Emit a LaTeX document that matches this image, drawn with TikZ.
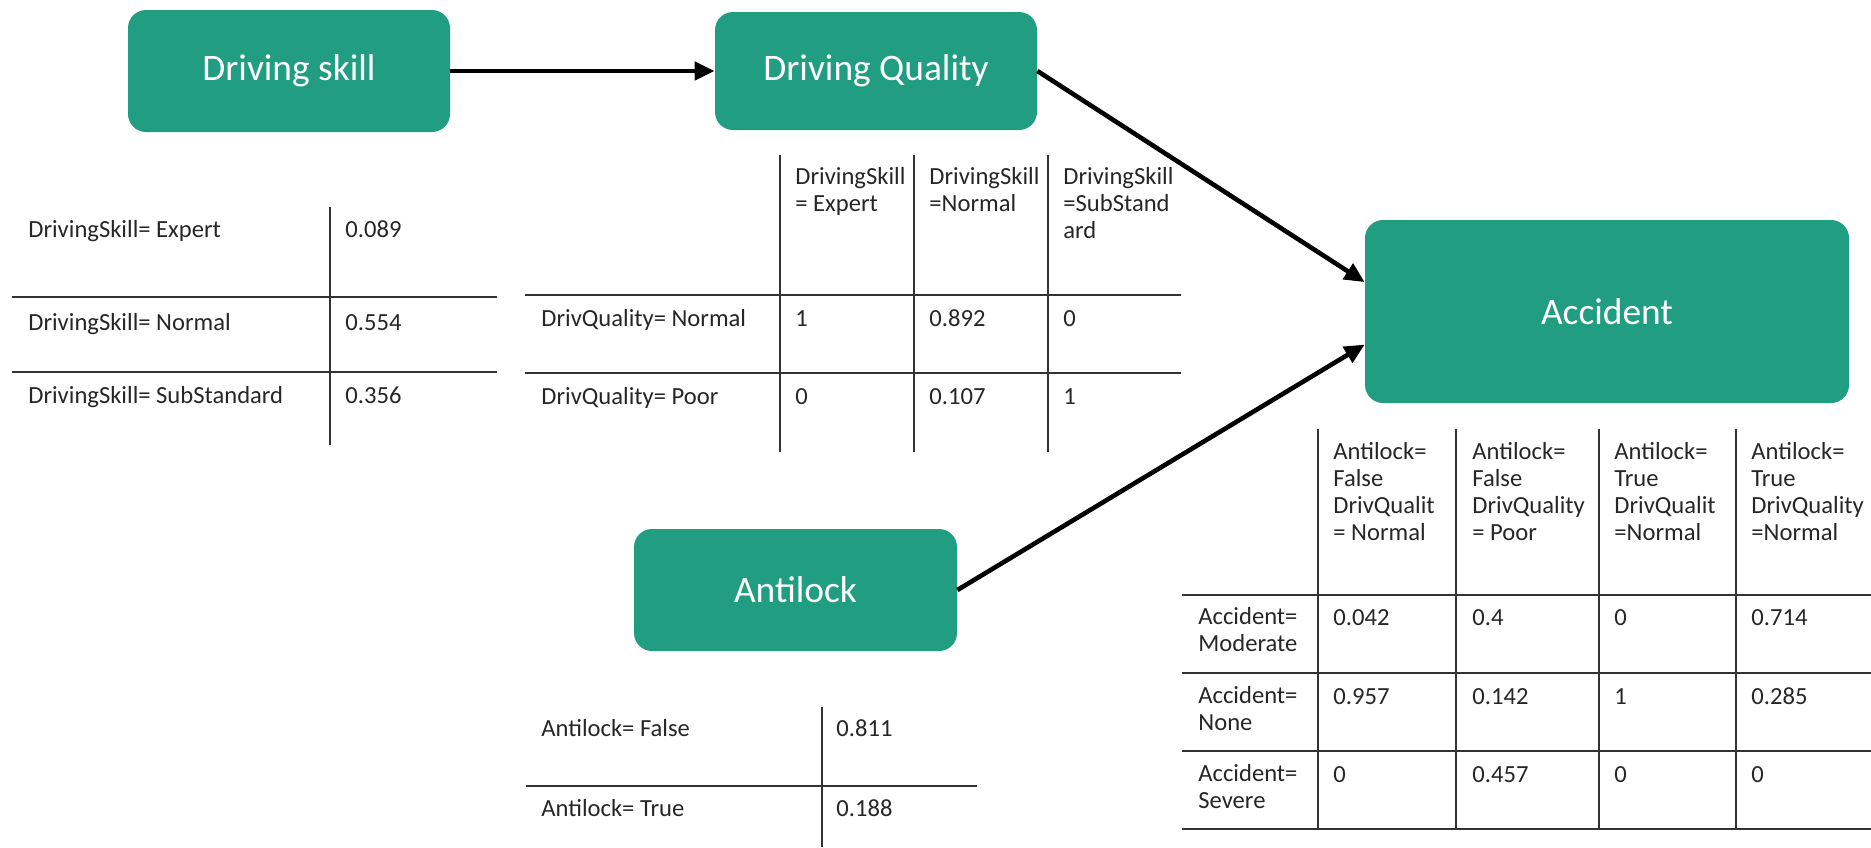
\documentclass[tikz,border=0pt]{standalone}
\usepackage{fontspec}
\setmainfont{Carlito}
\usetikzlibrary{arrows.meta,calc}
\definecolor{boxgreen}{RGB}{33,157,129}
\definecolor{txt}{RGB}{38,38,38}
\begin{document}
\begin{tikzpicture}[x=0.5pt,y=-0.5pt,
  nodebox/.style={fill=boxgreen, rounded corners=9pt, text=white, font=\fontsize{18.7}{22}\selectfont, inner sep=0pt},
  cell/.style={anchor=base west, inner sep=0pt, text=txt, font=\fontsize{12.3}{13.5}\selectfont},
  hcell/.style={anchor=north west, inner sep=0pt, align=left, text=txt, font=\fontsize{12.3}{13.5}\selectfont},
  gridline/.style={line width=1.1pt, draw=black!80},
  link/.style={line width=2.3pt, -{Triangle[length=10pt,width=9pt]}}]
\useasboundingbox (0,0) rectangle (1871,847);

% ---------- nodes ----------
\node[nodebox, minimum width=161pt, minimum height=61pt] (ds) at (289,71) {Driving skill};
\node[nodebox, minimum width=161pt, minimum height=59pt] (dq) at (876,71) {Driving Quality};
\node[nodebox, minimum width=242pt, minimum height=91.5pt] (acc) at (1607,311.5) {Accident};
\node[nodebox, minimum width=161.5pt, minimum height=61pt] (al) at (795.5,590) {Antilock};

\coordinate (accin1) at ($(acc.north west)!0.34!(acc.south west)$);
\coordinate (accin2) at ($(acc.north west)!0.68!(acc.south west)$);

% ---------- connectors ----------
\draw[link] (ds.east) -- (dq.west);
\draw[link] (dq.east) -- (accin1);
\draw[link] (al.east) -- (accin2);

% ---------- table 1: DrivingSkill ----------
\draw[gridline] (330,207) -- (330,445);
\draw[gridline] (12,297) -- (497,297);
\draw[gridline] (12,372) -- (497,372);
\node[cell] (t1a) at (28,237) {DrivingSkill= Expert};
\node[cell] (t1b) at (345,237) {0.089};
\node[cell] (t1c) at (28,330) {DrivingSkill= Normal};
\node[cell] (t1d) at (345,330) {0.554};
\node[cell] (t1e) at (28,403) {DrivingSkill= SubStandard};
\node[cell] (t1f) at (345,403) {0.356};

% ---------- table 2: Driving Quality ----------
\draw[gridline] (780,155) -- (780,452);
\draw[gridline] (914,155) -- (914,452);
\draw[gridline] (1048,155) -- (1048,452);
\draw[gridline] (525,295) -- (1181,295);
\draw[gridline] (525,373) -- (1181,373);
\node[hcell] (t2h1) at (795,167.5) {DrivingSkill\\= Expert};
\node[hcell] (t2h2) at (929,167.5) {DrivingSkill\\=Normal};
\node[hcell] (t2h3) at (1063,167.5) {DrivingSkill\\=SubStand\\ard};
\node[cell] (t2r1) at (541,326) {DrivQuality= Normal};
\node[cell] (t2v11) at (795,326) {1};
\node[cell] (t2v12) at (929,326) {0.892};
\node[cell] (t2v13) at (1063,326) {0};
\node[cell] (t2r2) at (541,404) {DrivQuality= Poor};
\node[cell] (t2v21) at (795,404) {0};
\node[cell] (t2v22) at (929,404) {0.107};
\node[cell] (t2v23) at (1063,404) {1};

% ---------- table 3: Accident ----------
\draw[gridline] (1318,429) -- (1318,829);
\draw[gridline] (1456,429) -- (1456,829);
\draw[gridline] (1599,429) -- (1599,829);
\draw[gridline] (1736,429) -- (1736,829);
\draw[gridline] (1182,595) -- (1871,595);
\draw[gridline] (1182,673) -- (1871,673);
\draw[gridline] (1182,751) -- (1871,751);
\draw[gridline] (1182,829) -- (1871,829);
\node[hcell] (t3h1) at (1333,442.5) {Antilock=\\False\\DrivQualit\\= Normal};
\node[hcell] (t3h2) at (1472,442.5) {Antilock=\\False\\DrivQuality\\= Poor};
\node[hcell] (t3h3) at (1614,442.5) {Antilock=\\True\\DrivQualit\\=Normal};
\node[hcell] (t3h4) at (1751,442.5) {Antilock=\\True\\DrivQuality\\=Normal};
\node[hcell] (t3r1) at (1198,607.5) {Accident=\\Moderate};
\node[hcell] (t3r2) at (1198,686) {Accident=\\None};
\node[hcell] (t3r3) at (1198,764.5) {Accident=\\Severe};
\node[cell] (t3v11) at (1333,625) {0.042};
\node[cell] (t3v12) at (1472,625) {0.4};
\node[cell] (t3v13) at (1614,625) {0};
\node[cell] (t3v14) at (1751,625) {0.714};
\node[cell] (t3v21) at (1333,704) {0.957};
\node[cell] (t3v22) at (1472,704) {0.142};
\node[cell] (t3v23) at (1614,704) {1};
\node[cell] (t3v24) at (1751,704) {0.285};
\node[cell] (t3v31) at (1333,782) {0};
\node[cell] (t3v32) at (1472,782) {0.457};
\node[cell] (t3v33) at (1614,782) {0};
\node[cell] (t3v34) at (1751,782) {0};

% ---------- table 4: Antilock ----------
\draw[gridline] (822,707) -- (822,847);
\draw[gridline] (526,786) -- (977,786);
\node[cell] (t4a) at (541,736) {Antilock= False};
\node[cell] (t4b) at (836,736) {0.811};
\node[cell] (t4c) at (541,816) {Antilock= True};
\node[cell] (t4d) at (836,816) {0.188};
\end{tikzpicture}
\end{document}
